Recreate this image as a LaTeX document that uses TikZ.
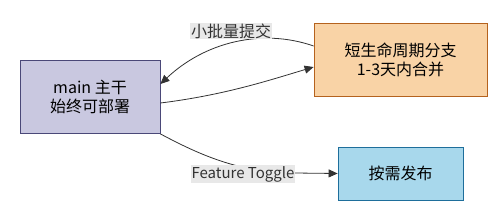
\documentclass[tikz,border=0pt]{standalone}
\usepackage{fontspec}
\setmainfont{Noto Sans CJK SC}
\usetikzlibrary{
    arrows.meta,
    positioning
}
\definecolor{TrunkFill}{RGB}{201,200,224}
\definecolor{TrunkLine}{RGB}{74,72,120}
\definecolor{BranchFill}{RGB}{249,211,166}
\definecolor{BranchLine}{RGB}{181,98,30}
\definecolor{ReleaseFill}{RGB}{168,216,236}
\definecolor{ReleaseLine}{RGB}{30,110,155}
\definecolor{EdgeGray}{RGB}{51,51,51}
\definecolor{LabelBg}{RGB}{232,232,232}
\tikzset{
  box/.style    = {draw, line width=0.8pt, align=center, font=\fontsize{16}{19}\selectfont,
                   inner sep=0pt},
  flow/.style   = {-{Triangle[length=9pt,width=8pt]}, EdgeGray, line width=0.8pt},
  elabel/.style = {fill=LabelBg, text=EdgeGray, inner sep=1pt,
                   font=\fontsize{15}{17}\selectfont}
}

\begin{document}
\begin{tikzpicture}[x=1pt,y=-1pt]
\useasboundingbox (0,0) rectangle (501,218);
\node[box, fill=TrunkFill, draw=TrunkLine, minimum width=140pt, minimum height=73pt]
  (main) at (90,97) {main 主干\\始终可部署};
\node[box, fill=BranchFill, draw=BranchLine, minimum width=173pt, minimum height=73pt]
  (branch) at (400.5,60) {短生命周期分支\\1-3天内合并};
\node[box, fill=ReleaseFill, draw=ReleaseLine, minimum width=125pt, minimum height=53pt]
  (release) at (400.5,173.5) {按需发布};
% edges
\draw[flow] ([yshift=14pt]branch.west) .. controls (262,28) and (205,42) .. ([yshift=13pt]main.east);
\draw[flow] ([yshift=-6pt]main.east) .. controls (225,95) and (270,80) .. ([yshift=-7pt]branch.west);
\draw[flow] (main.south east) .. controls (200,155) and (240,173) .. (295,173) -- (release.west);
% labels
\node[elabel, font=\fontsize{16}{18}\selectfont] (lcommit) at (231,31) {小批量提交};
\node[elabel] (ltoggle) at (243,174) {Feature Toggle};
\end{tikzpicture}
\end{document}
